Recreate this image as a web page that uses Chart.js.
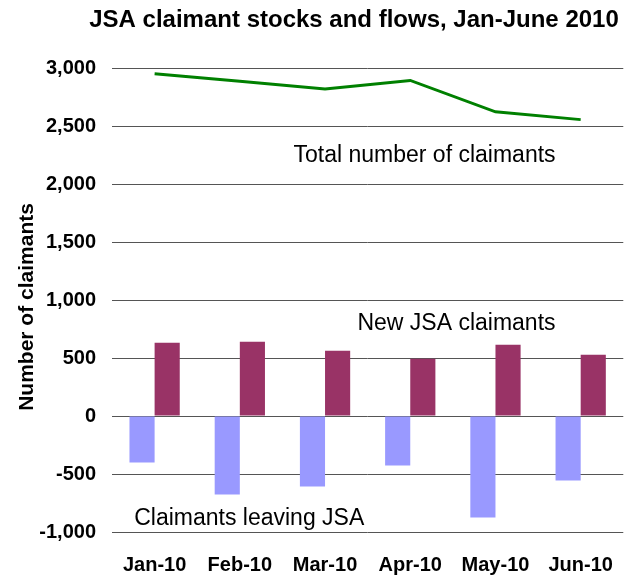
<!DOCTYPE html>
<html lang="en">

<head>
    <meta charset="UTF-8">
    <title>JSA claimant stocks and flows</title>
    <script src="https://cdn.jsdelivr.net/npm/chart.js"></script>
    <style>
        body {
            margin: 0;
            background: #fff;
        }

        canvas {
            display: block;
        }
    </style>
</head>

<body>
    <canvas id="jsaChart" width="634" height="577"></canvas>
    <script>
        // values
        const months = ["Jan-10", "Feb-10", "Mar-10", "Apr-10", "May-10", "Jun-10"];
        const totalClaimants = [2950, 2885, 2820, 2893, 2622, 2555];
        const newClaimants = [632, 640, 563, 494, 615, 528];
        const leavingClaimants = [-400, -676, -607, -426, -874, -555];

        const FONT = "'Liberation Sans', Arial, sans-serif";

        // in-chart labels, anchored in data units (x = category index, y = value at baseline)
        const notes = [
            { text: "Total number of claimants", x: 1.63, y: 2186 },
            { text: "New JSA claimants", x: 2.38, y: 738 },
            { text: "Claimants leaving JSA", x: -0.24, y: -937 }
        ];

        const textPlugin = {
            id: "textPlugin",
            afterDatasetsDraw(chart) {
                const ctx = chart.ctx;
                const xs = chart.scales.x;
                const ys = chart.scales.y;
                ctx.save();
                ctx.fillStyle = "#000";
                ctx.textBaseline = "alphabetic";
                ctx.textAlign = "left";
                ctx.font = "23px " + FONT;
                notes.forEach(n => {
                    ctx.fillText(n.text, xs.getPixelForValue(n.x), ys.getPixelForValue(n.y));
                });
                // chart title
                ctx.textAlign = "center";
                ctx.font = "bold 24px " + FONT;
                ctx.fillText("JSA claimant stocks and flows, Jan-June 2010", 354, 27);
                // y axis title, sits a little below the plot middle in the original
                ctx.textBaseline = "middle";
                ctx.font = "bold 21px " + FONT;
                ctx.translate(27, ys.getPixelForValue(940));
                ctx.rotate(-Math.PI / 2);
                ctx.fillText("Number of claimants", 0, 0);
                ctx.restore();
            }
        };

        new Chart(document.getElementById("jsaChart"), {
            type: "bar",
            data: {
                labels: months,
                datasets: [
                    {
                        label: "Claimants leaving JSA",
                        data: leavingClaimants,
                        backgroundColor: "#9999ff",
                        categoryPercentage: 0.59,
                        barPercentage: 1
                    },
                    {
                        label: "New JSA claimants",
                        data: newClaimants,
                        backgroundColor: "#993366",
                        categoryPercentage: 0.59,
                        barPercentage: 1
                    },
                    {
                        type: "line",
                        label: "Total number of claimants",
                        data: totalClaimants,
                        borderColor: "#008000",
                        borderWidth: 3,
                        pointRadius: 0,
                        tension: 0
                    }
                ]
            },
            options: {
                responsive: false,
                animation: false,
                layout: { padding: { top: 68, right: 1, left: 0, bottom: 0 } },
                plugins: {
                    legend: { display: false },
                    tooltip: { enabled: false },
                    title: { display: false }
                },
                scales: {
                    x: {
                        grid: { display: false, drawTicks: false },
                        border: { display: false },
                        ticks: {
                            color: "#000",
                            padding: 21,
                            font: { family: FONT, size: 20, weight: "bold" }
                        },
                        afterFit(scale) { scale.height = 45; }
                    },
                    y: {
                        min: -1000,
                        max: 3000,
                        grid: { color: "#555", drawTicks: false },
                        border: { display: false },
                        ticks: {
                            stepSize: 500,
                            color: "#000",
                            padding: 16,
                            font: { family: FONT, size: 20, weight: "bold" },
                            callback: v => v.toLocaleString("en-US")
                        },
                        afterFit(scale) { scale.width = 112; }
                    }
                }
            },
            plugins: [textPlugin]
        });
    </script>
</body>

</html>
